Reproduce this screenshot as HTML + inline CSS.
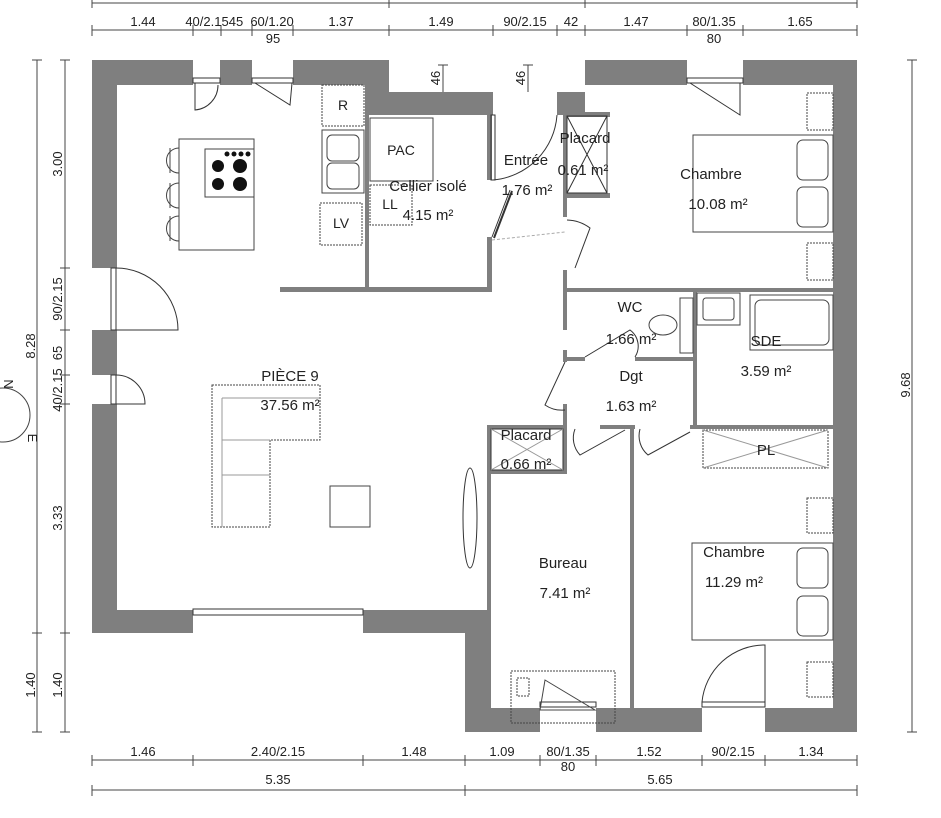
<!DOCTYPE html>
<html><head><meta charset="utf-8"><style>
html,body{margin:0;padding:0;background:#fff}
svg{display:block}
text{font-family:"Liberation Sans",sans-serif;fill:#222}
.l{font-size:15px;text-anchor:middle}
.d{font-size:13px;text-anchor:middle;fill:#333}
</style></head><body>
<svg width="941" height="818" viewBox="0 0 941 818" xmlns="http://www.w3.org/2000/svg">
<g stroke="#444" stroke-width="1" fill="none">
<line x1="92" y1="3" x2="857" y2="3"/>
<line x1="92" y1="0" x2="92" y2="8"/><line x1="389" y1="0" x2="389" y2="8"/><line x1="585" y1="0" x2="585" y2="8"/><line x1="857" y1="0" x2="857" y2="8"/>
<line x1="92" y1="30" x2="857" y2="30"/>
<g><line x1="92" y1="25" x2="92" y2="36"/><line x1="193" y1="25" x2="193" y2="36"/><line x1="221" y1="25" x2="221" y2="36"/><line x1="252" y1="25" x2="252" y2="36"/><line x1="293" y1="25" x2="293" y2="36"/><line x1="389" y1="25" x2="389" y2="36"/><line x1="493" y1="25" x2="493" y2="36"/><line x1="557" y1="25" x2="557" y2="36"/><line x1="585" y1="25" x2="585" y2="36"/><line x1="687" y1="25" x2="687" y2="36"/><line x1="743" y1="25" x2="743" y2="36"/><line x1="857" y1="25" x2="857" y2="36"/></g>
<line x1="92" y1="760" x2="857" y2="760"/>
<g><line x1="92" y1="755" x2="92" y2="766"/><line x1="193" y1="755" x2="193" y2="766"/><line x1="363" y1="755" x2="363" y2="766"/><line x1="465" y1="755" x2="465" y2="766"/><line x1="540" y1="755" x2="540" y2="766"/><line x1="596" y1="755" x2="596" y2="766"/><line x1="702" y1="755" x2="702" y2="766"/><line x1="765" y1="755" x2="765" y2="766"/><line x1="857" y1="755" x2="857" y2="766"/></g>
<line x1="92" y1="790" x2="857" y2="790"/>
<line x1="92" y1="785" x2="92" y2="796"/><line x1="465" y1="785" x2="465" y2="796"/><line x1="857" y1="785" x2="857" y2="796"/>
<line x1="37" y1="60" x2="37" y2="732"/>
<line x1="32" y1="60" x2="42" y2="60"/><line x1="32" y1="633" x2="42" y2="633"/><line x1="32" y1="732" x2="42" y2="732"/>
<line x1="65" y1="60" x2="65" y2="732"/>
<g><line x1="60" y1="60" x2="70" y2="60"/><line x1="60" y1="268" x2="70" y2="268"/><line x1="60" y1="330" x2="70" y2="330"/><line x1="60" y1="375" x2="70" y2="375"/><line x1="60" y1="404" x2="70" y2="404"/><line x1="60" y1="633" x2="70" y2="633"/><line x1="60" y1="732" x2="70" y2="732"/></g>
<line x1="912" y1="60" x2="912" y2="732"/>
<line x1="907" y1="60" x2="917" y2="60"/><line x1="907" y1="732" x2="917" y2="732"/>
<line x1="443" y1="65" x2="443" y2="92"/><line x1="438" y1="65" x2="448" y2="65"/>
<line x1="528" y1="65" x2="528" y2="92"/><line x1="523" y1="65" x2="533" y2="65"/>
<circle cx="3" cy="415" r="27"/>
</g>
<g class="d">
<text x="143" y="26">1.44</text><text x="207" y="26">40/2.15</text><text x="236" y="26">45</text><text x="272" y="26">60/1.20</text><text x="341" y="26">1.37</text>
<text x="273" y="43">95</text>
<text x="441" y="26">1.49</text><text x="525" y="26">90/2.15</text><text x="571" y="26">42</text><text x="636" y="26">1.47</text><text x="714" y="26">80/1.35</text><text x="800" y="26">1.65</text>
<text x="714" y="43">80</text>
<text x="143" y="756">1.46</text><text x="278" y="756">2.40/2.15</text><text x="414" y="756">1.48</text><text x="502" y="756">1.09</text><text x="568" y="756">80/1.35</text><text x="649" y="756">1.52</text><text x="733" y="756">90/2.15</text><text x="811" y="756">1.34</text>
<text x="568" y="771">80</text>
<text x="278" y="784">5.35</text><text x="660" y="784">5.65</text>
<text transform="translate(35,346) rotate(-90)">8.28</text>
<text transform="translate(35,685) rotate(-90)">1.40</text>
<text transform="translate(62,164) rotate(-90)">3.00</text>
<text transform="translate(62,299) rotate(-90)">90/2.15</text>
<text transform="translate(62,353) rotate(-90)">65</text>
<text transform="translate(62,390) rotate(-90)">40/2.15</text>
<text transform="translate(62,518) rotate(-90)">3.33</text>
<text transform="translate(62,685) rotate(-90)">1.40</text>
<text transform="translate(910,385) rotate(-90)">9.68</text>
<text transform="translate(440,78) rotate(-90)">46</text>
<text transform="translate(525,78) rotate(-90)">46</text>
<text transform="translate(4,384) rotate(90)">N</text>
<text transform="translate(28,438) rotate(90)">E</text>
</g>
<g fill="#7f7f7f">
<rect x="92" y="60" width="101" height="25"/><rect x="220" y="60" width="32" height="25"/><rect x="293" y="60" width="96" height="25"/>
<rect x="365" y="85" width="24" height="30"/>
<rect x="389" y="92" width="104" height="23"/><rect x="557" y="92" width="28" height="23"/>
<rect x="585" y="60" width="102" height="25"/><rect x="743" y="60" width="114" height="25"/>
<rect x="833" y="60" width="24" height="672"/>
<rect x="92" y="60" width="25" height="208"/><rect x="92" y="330" width="25" height="45"/><rect x="92" y="404" width="25" height="229"/>
<rect x="92" y="610" width="101" height="23"/><rect x="363" y="610" width="127" height="23"/>
<rect x="465" y="610" width="25" height="122"/>
<rect x="465" y="708" width="75" height="24"/><rect x="596" y="708" width="106" height="24"/><rect x="765" y="708" width="92" height="24"/>
<rect x="365" y="92" width="4" height="200"/>
<rect x="280" y="287" width="212" height="5"/>
<rect x="487" y="115" width="5" height="65"/><rect x="487" y="237" width="5" height="55"/>
<rect x="563" y="112" width="47" height="5"/><rect x="563" y="112" width="4" height="105"/><rect x="563" y="193" width="47" height="5"/>
<rect x="563" y="270" width="4" height="60"/><rect x="563" y="350" width="4" height="12"/><rect x="563" y="404" width="4" height="70"/>
<rect x="563" y="288" width="270" height="4"/>
<rect x="563" y="357" width="22" height="4"/><rect x="635" y="357" width="60" height="4"/>
<rect x="693" y="292" width="4" height="135"/>
<rect x="487" y="425" width="80" height="4"/><rect x="600" y="425" width="35" height="4"/><rect x="690" y="425" width="143" height="4"/>
<rect x="487" y="425" width="4" height="283"/><rect x="487" y="470" width="80" height="4"/>
<rect x="630" y="429" width="4" height="279"/>
</g>
<g fill="none" stroke="#333" stroke-width="1">
<rect x="193" y="78" width="27" height="5"/><rect x="252" y="78" width="41" height="5"/>
<path d="M195 83 V110 A25 25 0 0 0 218 85"/><path d="M255 83 L290 105 L292 83"/>
<rect x="687" y="78" width="56" height="5"/><path d="M690 83 L740 115 V83"/>
<rect x="111" y="268" width="5" height="62"/><path d="M116 268 A62 62 0 0 1 178 330 H116"/>
<rect x="111" y="375" width="5" height="29"/><path d="M116 375 A29 29 0 0 1 145 404 H116"/>
<rect x="193" y="609" width="170" height="6"/>
<rect x="540" y="702" width="56" height="5"/><rect x="702" y="702" width="63" height="5"/>
<path d="M702 702 A63 63 0 0 1 765 645 V702"/>
<path d="M493 180 A70 70 0 0 0 557 115"/><rect x="491" y="115" width="4" height="65"/>
<path d="M492 237 L510 190"/><path d="M494 238 L512 191" stroke-width="2"/>
<path d="M492 240 L565 232" stroke="#aaa" stroke-dasharray="3 2"/>
<path d="M567 220 A40 40 0 0 1 590 228 L575 268"/>
<path d="M585 357 L630 330 A20 20 0 0 1 635 357"/>
<path d="M565 362 L545 405 A30 30 0 0 0 565 410"/>
<path d="M575 429 A25 25 0 0 0 580 455 L625 430"/>
<path d="M640 429 A25 25 0 0 0 648 455 L690 432"/>
<rect x="567" y="116" width="40" height="77"/><path d="M567 116 L607 193 M607 116 L567 193"/>
<rect x="491" y="429" width="72" height="41"/><path d="M491 429 L563 470 M563 429 L491 470" stroke="#999"/>
<ellipse cx="470" cy="518" rx="7" ry="50"/>
</g>
<g fill="none" stroke="#444" stroke-width="1">
<rect x="179" y="139" width="75" height="111"/>
<rect x="205" y="149" width="49" height="48"/>
<g fill="#111" stroke="none"><circle cx="218" cy="166" r="6"/><circle cx="240" cy="166" r="7"/><circle cx="218" cy="184" r="6"/><circle cx="240" cy="184" r="7"/><circle cx="227" cy="154" r="2.5"/><circle cx="234" cy="154" r="2.5"/><circle cx="241" cy="154" r="2.5"/><circle cx="248" cy="154" r="2.5"/></g>
<path d="M179 148 A12 12 0 0 0 179 173 M170 148 V173 M179 183 A12 12 0 0 0 179 208 M170 183 V208 M179 216 A12 12 0 0 0 179 241 M170 216 V241"/>
<rect x="322" y="85" width="42" height="41" stroke-dasharray="2 1"/>
<rect x="322" y="130" width="42" height="63"/><rect x="327" y="135" width="32" height="26" rx="5"/><rect x="327" y="163" width="32" height="26" rx="5"/>
<rect x="320" y="203" width="42" height="42" stroke-dasharray="2 1"/>
<rect x="370" y="118" width="63" height="63"/>
<rect x="370" y="185" width="42" height="40" stroke-dasharray="2 1"/>
<path d="M212 385 H320 V440 H270 V527 H212 Z" stroke-dasharray="2 1"/>
<path d="M222 398 H320 M222 398 V527 M222 440 H270 M222 475 H270" stroke="#999"/>
<rect x="330" y="486" width="40" height="41"/>
<rect x="693" y="135" width="140" height="97"/><rect x="797" y="140" width="31" height="40" rx="6"/><rect x="797" y="187" width="31" height="40" rx="6"/>
<rect x="807" y="93" width="26" height="37" stroke-dasharray="2 1"/><rect x="807" y="243" width="26" height="37" stroke-dasharray="2 1"/>
<rect x="692" y="543" width="141" height="97"/><rect x="797" y="548" width="31" height="40" rx="6"/><rect x="797" y="596" width="31" height="40" rx="6"/>
<rect x="807" y="498" width="26" height="35" stroke-dasharray="2 1"/><rect x="807" y="662" width="26" height="35" stroke-dasharray="2 1"/>
<rect x="697" y="293" width="43" height="32"/><rect x="703" y="298" width="31" height="22" rx="3"/>
<rect x="750" y="295" width="83" height="55"/><rect x="755" y="300" width="74" height="45" rx="6"/>
<rect x="703" y="430" width="125" height="38" stroke-dasharray="2 1"/><path d="M703 430 L828 468 M828 430 L703 468" stroke="#999"/>
<rect x="680" y="298" width="13" height="55"/><ellipse cx="663" cy="325" rx="14" ry="10"/>
<rect x="511" y="671" width="104" height="52" stroke-dasharray="2 1"/>
<rect x="517" y="678" width="12" height="18" stroke-dasharray="2 1"/>
<path d="M545 680 L595 710 H540 Z"/>
</g>
<g class="l">
<text x="290" y="381">PIÈCE 9</text><text x="290" y="410">37.56 m²</text>
<text x="428" y="191">Cellier isolé</text><text x="428" y="220">4.15 m²</text>
<text x="401" y="155" font-size="14">PAC</text><text x="390" y="209" font-size="14">LL</text>
<text x="343" y="110" font-size="14">R</text><text x="341" y="228" font-size="14">LV</text>
<text x="526" y="165">Entrée</text><text x="527" y="195">1.76 m²</text>
<text x="585" y="143">Placard</text><text x="583" y="175">0.61 m²</text>
<text x="711" y="179">Chambre</text><text x="718" y="209">10.08 m²</text>
<text x="630" y="312">WC</text><text x="631" y="344">1.66 m²</text>
<text x="766" y="346">SDE</text><text x="766" y="376">3.59 m²</text>
<text x="631" y="381">Dgt</text><text x="631" y="411">1.63 m²</text>
<text x="526" y="440">Placard</text><text x="526" y="469">0.66 m²</text>
<text x="766" y="455">PL</text>
<text x="563" y="568">Bureau</text><text x="565" y="598">7.41 m²</text>
<text x="734" y="557">Chambre</text><text x="734" y="587">11.29 m²</text>
</g>
</svg>
</body></html>
